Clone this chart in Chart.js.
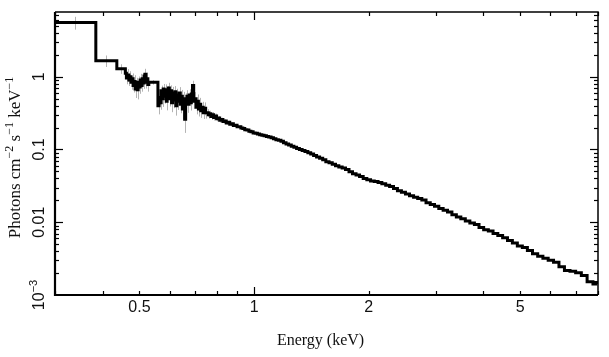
<!DOCTYPE html>
<html><head><meta charset="utf-8">
<script src="https://cdn.jsdelivr.net/npm/chart.js@4.4.1/dist/chart.umd.min.js"></script>
<style>html,body{margin:0;padding:0;background:#fff;}#wrap{width:609px;height:357px;}</style>
</head><body><div id="wrap"><canvas id="c" width="609" height="357"></canvas></div>
<script>
// Bin left edges (keV)
const binLo = [
0.300,0.384,0.436,0.459,0.462,0.466,0.469,0.472,0.475,0.478,
0.481,0.484,0.487,0.490,0.493,0.496,0.499,0.502,0.505,0.508,
0.511,0.514,0.517,0.520,0.523,0.526,0.529,0.559,0.563,0.566,
0.570,0.573,0.577,0.580,0.584,0.588,0.591,0.595,0.599,0.603,
0.607,0.611,0.615,0.619,0.623,0.627,0.631,0.635,0.640,0.644,
0.648,0.653,0.657,0.661,0.666,0.670,0.675,0.680,0.684,0.689,
0.694,0.699,0.704,0.709,0.714,0.719,0.724,0.729,0.735,0.740,
0.746,0.752,0.758,0.764,0.770,0.776,0.783,0.790,0.797,0.804,
0.812,0.820,0.828,0.836,0.845,0.854,0.863,0.872,0.882,0.892,
0.902,0.912,0.923,0.934,0.945,0.957,0.969,0.981,0.994,1.007,
1.020,1.034,1.048,1.062,1.077,1.092,1.108,1.124,1.141,1.158,
1.176,1.194,1.213,1.232,1.252,1.272,1.293,1.315,1.337,1.360,
1.384,1.408,1.433,1.459,1.486,1.514,1.543,1.573,1.604,1.636,
1.669,1.703,1.738,1.775,1.813,1.852,1.892,1.934,1.977,2.022,
2.068,2.116,2.165,2.216,2.269,2.323,2.379,2.437,2.497,2.559,
2.623,2.689,2.757,2.828,2.901,2.977,3.055,3.136,3.220,3.307,
3.397,3.490,3.586,3.686,3.789,3.896,4.007,4.122,4.241,4.365,
4.494,4.628,4.767,4.912,5.063,5.220,5.384,5.555,5.733,5.919,
6.114,6.318,6.531,6.754,6.988,7.233,7.490,7.760,7.900
];
const binHiLast = 8.0;
// Photons cm^-2 s^-1 keV^-1
const flux = [
5.55,1.66,1.29,1.12,0.96,1.06,0.90,1.00,0.84,0.94,
0.76,0.86,0.68,0.80,0.66,0.84,0.72,0.90,0.76,0.94,
0.82,1.02,1.08,0.84,0.94,0.78,0.84,0.40,0.52,0.44,
0.64,0.50,0.68,0.54,0.66,0.46,0.62,0.70,0.50,0.64,
0.44,0.60,0.48,0.62,0.40,0.56,0.46,0.60,0.42,0.54,
0.36,0.50,0.26,0.48,0.54,0.42,0.56,0.44,0.58,0.76,
0.46,0.50,0.38,0.46,0.36,0.42,0.34,0.38,0.32,0.37,
0.32,0.32,0.30,0.31,0.285,0.30,0.275,0.288,0.265,0.27,
0.252,0.258,0.242,0.246,0.232,0.236,0.222,0.226,0.214,0.216,
0.205,0.206,0.198,0.195,0.187,0.185,0.178,0.176,0.169,0.167,
0.163,0.160,0.157,0.154,0.151,0.148,0.145,0.140,0.136,0.134,
0.130,0.124,0.119,0.115,0.111,0.107,0.103,0.100,0.097,0.094,
0.090,0.087,0.083,0.079,0.076,0.072,0.068,0.0655,0.0625,0.060,
0.0575,0.0555,0.053,0.0495,0.0465,0.0445,0.0425,0.0400,0.0385,0.0370,
0.0362,0.0352,0.0338,0.0322,0.0310,0.0290,0.0272,0.0259,0.0245,0.0232,
0.0221,0.0212,0.0203,0.0186,0.0176,0.0166,0.0155,0.0146,0.0138,0.0127,
0.0118,0.0112,0.0104,0.0098,0.0093,0.0085,0.0079,0.0076,0.0070,0.0066,
0.0061,0.0056,0.0052,0.0047,0.0045,0.0041,0.0037,0.0034,0.0032,0.0030,
0.00282,0.00245,0.00218,0.00212,0.00202,0.00185,0.00152,0.00142,0.00148
];
// relative 1-sigma errors of the low-energy bins (grey error bars)
const relErr = [
0.20,0.18,0.15,
0.16,0.18,0.20,0.17,0.19,0.21,0.18,0.20,0.22,0.25,0.21,0.26,0.20,0.19,0.22,0.18,0.20,0.17,0.16,0.19,0.18,0.21,0.20,
0.07,
0.24,0.22,0.20,0.18,0.23,0.17,0.21,0.19,0.25,0.20,0.18,0.22,0.19,0.26,0.21,0.23,0.20,0.27,0.22,0.24,
0.20,0.25,0.22,0.28,0.24,0.35,0.23,0.21,0.24,0.20,0.22,0.19,0.16,0.21,0.23,0.20,0.24,0.21,0.22,0.20,
0.19,0.18,0.20,0.17,
0.12,0.11,0.10,0.10,0.09,0.09,0.08,0.08,0.07,0.07,0.06,0.06,0.06,0.05,0.05,0.05,0.05,0.04,0.04,0.04,0.04
];
const xRange = [0.3, 8];
const yRange = [0.001, 7.76];
const xTicks = [0.3,0.4,0.5,0.6,0.7,0.8,0.9,1,2,3,4,5,6,7,8];
const xMajor = [1];
const xLabelValues = [0.5, 1, 2, 5];
const xLabelTexts = ['0.5', '1', '2', '5'];
const yTicks = [0.002,0.003,0.004,0.005,0.006,0.007,0.008,0.009,
  0.01,0.02,0.03,0.04,0.05,0.06,0.07,0.08,0.09,
  0.1,0.2,0.3,0.4,0.5,0.6,0.7,0.8,0.9,1,2,3,4,5,6,7];
const yMajor = [0.01, 0.1, 1];
const yLabelValues = [1, 0.1, 0.01, 0.001];
const yLabelTexts = ['1', '0.1', '0.01', ['10', '\u22123']];
const xTitle = 'Energy (keV)';
const yTitle = [['Photons cm',''],['\u22122','sup'],[' s',''],['\u22121','sup'],[' keV',''],['\u22121','sup']];

const pts = binLo.map((e, i) => ({x: e, y: flux[i]}));
pts.push({x: binHiLast, y: flux[flux.length - 1]});

function drawRich(ctx, segs, cx, cy, size, family, rot) {
  ctx.save();
  ctx.translate(cx, cy);
  ctx.rotate(rot);
  const supSize = Math.round(size * 0.68);
  let total = 0;
  const widths = segs.map(s => {
    ctx.font = (s[1] === 'sup' ? supSize : size) + 'px ' + family;
    const w = ctx.measureText(s[0]).width; total += w; return w;
  });
  let x = -total / 2;
  ctx.textBaseline = 'middle';
  ctx.textAlign = 'left';
  segs.forEach((s, i) => {
    ctx.font = (s[1] === 'sup' ? supSize : size) + 'px ' + family;
    ctx.fillText(s[0], x, s[1] === 'sup' ? -size * 0.38 : 0);
    x += widths[i];
  });
  ctx.restore();
}

const errorBars = {
  id: 'errorBars',
  beforeDatasetsDraw(chart) {
    const {ctx, chartArea: a, scales: {x, y}} = chart;
    ctx.save();
    ctx.beginPath(); ctx.rect(a.left, a.top, a.right - a.left, a.bottom - a.top); ctx.clip();
    ctx.strokeStyle = '#b4b4b4'; ctx.lineWidth = 1;
    for (let i = 0; i < relErr.length; i++) {
      const hi = i + 1 < binLo.length ? binLo[i + 1] : binHiLast;
      const c = Math.sqrt(binLo[i] * hi);
      const px = Math.round(x.getPixelForValue(c)) + 0.5;
      const y1 = y.getPixelForValue(flux[i] * (1 + relErr[i]));
      const y2 = y.getPixelForValue(flux[i] * (1 - relErr[i]));
      ctx.beginPath(); ctx.moveTo(px, y1); ctx.lineTo(px, y2); ctx.stroke();
    }
    ctx.restore();
  }
};

const frame = {
  id: 'frame',
  afterDraw(chart) {
    const {ctx, chartArea: a, scales: {x, y}} = chart;
    ctx.save();
    ctx.strokeStyle = '#000';
    ctx.lineWidth = 1.5;
    ctx.beginPath(); ctx.moveTo(a.left, a.top); ctx.lineTo(a.right, a.top); ctx.lineTo(a.right, a.bottom); ctx.stroke();
    ctx.lineWidth = 2.2;
    ctx.beginPath(); ctx.moveTo(a.left, a.top); ctx.lineTo(a.left, a.bottom); ctx.lineTo(a.right, a.bottom); ctx.stroke();
    ctx.lineWidth = 1.2;
    xTicks.forEach(v => {
      const px = Math.round(x.getPixelForValue(v)) + 0.5;
      const len = xMajor.includes(v) ? 8 : 4;
      ctx.beginPath(); ctx.moveTo(px, a.bottom); ctx.lineTo(px, a.bottom - len); ctx.stroke();
      ctx.beginPath(); ctx.moveTo(px, a.top); ctx.lineTo(px, a.top + len); ctx.stroke();
    });
    yTicks.forEach(v => {
      const py = Math.round(y.getPixelForValue(v)) + 0.5;
      const len = yMajor.includes(v) ? 8 : 4;
      ctx.beginPath(); ctx.moveTo(a.left, py); ctx.lineTo(a.left + len, py); ctx.stroke();
      ctx.beginPath(); ctx.moveTo(a.right, py); ctx.lineTo(a.right - len, py); ctx.stroke();
    });
    ctx.fillStyle = '#111';
    ctx.font = '16px "Liberation Sans", Arial, sans-serif';
    ctx.textAlign = 'center'; ctx.textBaseline = 'middle';
    xLabelValues.forEach((v, i) => {
      ctx.fillText(xLabelTexts[i], x.getPixelForValue(v), a.bottom + 13);
    });
    yLabelValues.forEach((v, i) => {
      const t = yLabelTexts[i];
      const segs = Array.isArray(t) ? [[t[0], ''], [t[1], 'sup']] : [[t, '']];
      drawRich(ctx, segs, a.left - 15, y.getPixelForValue(v), 16, '"Liberation Sans", Arial, sans-serif', -Math.PI / 2);
    });
    ctx.font = '16px "Liberation Serif", "Times New Roman", serif';
    ctx.textAlign = 'center'; ctx.textBaseline = 'middle';
    ctx.fillText(xTitle, (a.left + a.right) / 2 - 6, a.bottom + 46);
    drawRich(ctx, yTitle, 16, (a.top + a.bottom) / 2 + 4, 17, '"Liberation Serif", "Times New Roman", serif', -Math.PI / 2);
    ctx.restore();
  }
};

new Chart(document.getElementById('c'), {
  type: 'line',
  data: {
    datasets: [{
      data: pts,
      borderColor: '#000',
      borderWidth: 3,
      pointRadius: 0,
      stepped: 'before',
      fill: false,
      tension: 0
    }]
  },
  options: {
    responsive: false,
    devicePixelRatio: 1,
    animation: false,
    events: [],
    layout: {padding: {left: 55, right: 11, top: 12, bottom: 62}},
    plugins: {legend: {display: false}, tooltip: {enabled: false}},
    scales: {
      x: {type: 'logarithmic', min: xRange[0], max: xRange[1], display: false},
      y: {type: 'logarithmic', min: yRange[0], max: yRange[1], display: false}
    }
  },
  plugins: [errorBars, frame]
});
</script>
</body></html>
